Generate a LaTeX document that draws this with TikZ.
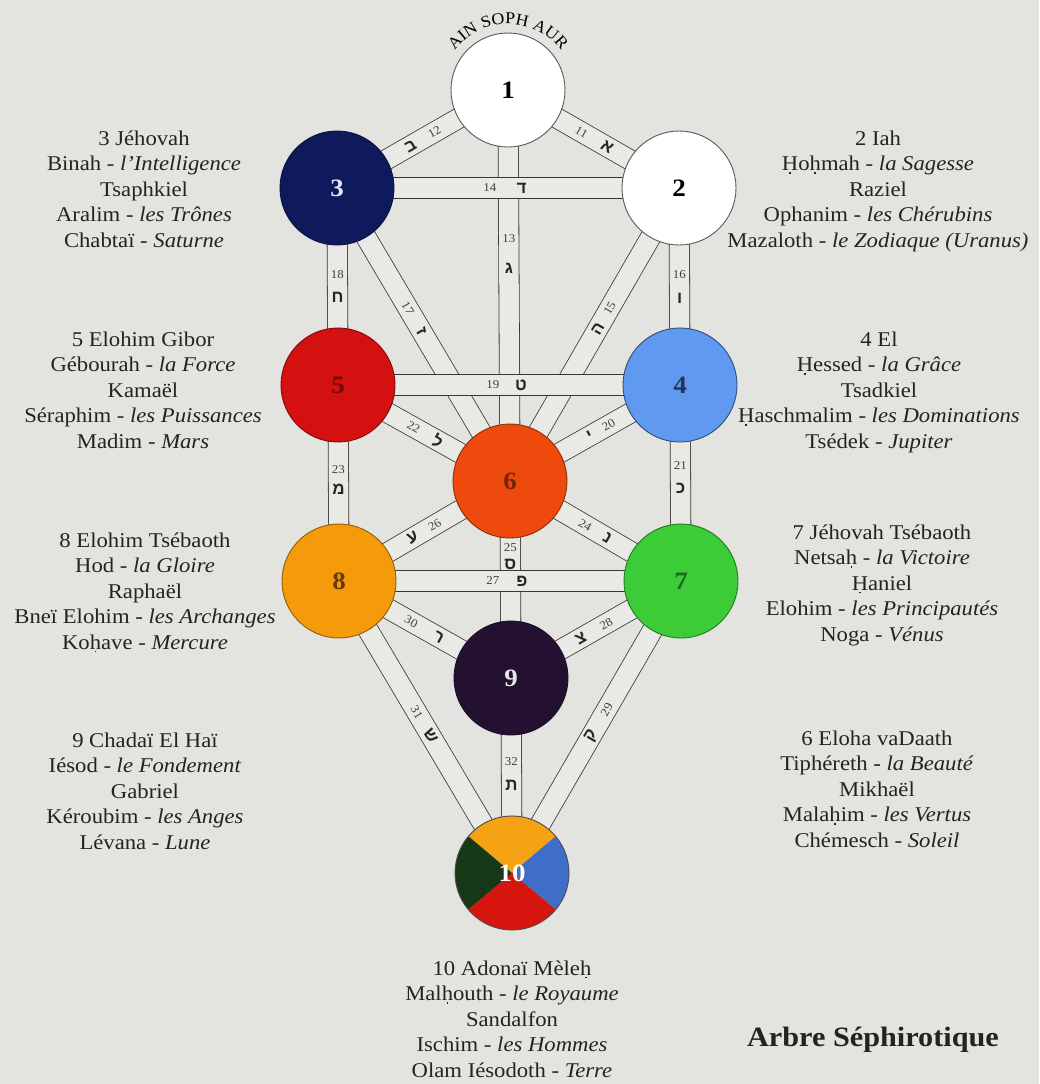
\documentclass[tikz,border=0pt]{standalone}
\usepackage{fontspec}
\setmainfont[FakeStretch=1.08]{Liberation Serif}
\newfontfamily\hebfont[Script=Hebrew]{Liberation Sans}
\usetikzlibrary{decorations.text}
\pgfdeclarelayer{back}
\pgfdeclarelayer{chan}
\pgfsetlayers{back,chan,main}
\definecolor{bg}{RGB}{227,227,223}
\definecolor{chanfill}{RGB}{233,233,229}
\definecolor{linec}{RGB}{55,55,55}
\definecolor{cthree}{RGB}{14,26,92}
\definecolor{cfive}{RGB}{212,16,16}
\definecolor{cfour}{RGB}{95,154,240}
\definecolor{csix}{RGB}{238,74,14}
\definecolor{ceight}{RGB}{245,154,10}
\definecolor{cseven}{RGB}{60,204,56}
\definecolor{cnine}{RGB}{36,16,48}
\definecolor{qorange}{RGB}{245,162,20}
\definecolor{qblue}{RGB}{62,110,200}
\definecolor{qred}{RGB}{214,22,14}
\definecolor{qgreen}{RGB}{22,56,22}
\definecolor{txt}{RGB}{35,35,35}
\newcommand\ud[1]{\leavevmode\vtop{\offinterlineskip\halign{\hfil##\hfil\cr#1\cr\noalign{\kern1.5pt}\vrule width 1.9pt height 1.9pt depth 0pt\cr}}}
\newcommand\infoblock[8]{%
  \node[info] (#1a) at (#2,#3) {#4};
  \node[info] (#1b) at (#2,#3+25.5) {#5};
  \node[info] (#1c) at (#2,#3+51) {#6};
  \node[info] (#1d) at (#2,#3+76.5) {#7};
  \node[info] (#1e) at (#2,#3+102) {#8};}
\begin{document}
\begin{tikzpicture}[x=1pt,y=-1pt,
  sephira/.style={circle, minimum size=114pt, inner sep=0pt, line width=0.9pt,
    font=\fontsize{25}{25}\selectfont\bfseries},
  chan/.style={line width=0.8pt, draw=linec, double=chanfill, double distance=19.5pt},
  num/.style={font=\fontsize{12}{12}\selectfont, text=black!75, inner sep=0pt},
  heb/.style={font=\hebfont\fontsize{17}{17}\selectfont\bfseries, text=black!85, inner sep=0pt},
  info/.style={font=\fontsize{21}{25}\selectfont, text=txt, anchor=base, inner sep=0pt}]
\begin{pgfonlayer}{back}
  \fill[bg] (0,0) rectangle (1039,1084);
\end{pgfonlayer}
\useasboundingbox (0,0) rectangle (1039,1084);

% sephiroth
\node[sephira, fill=white, draw=black!65] (n1) at (508,90) {1};
\node[sephira, fill=white, draw=black!65] (n2) at (679,188) {2};
\node[sephira, fill=cthree, draw=cthree!70!black, text=white!90!blue] (n3) at (337,188) {3};
\node[sephira, fill=cfour, draw=cfour!50!black, text=cfour!35!black] (n4) at (680,385) {4};
\node[sephira, fill=cfive, draw=cfive!60!black, text=cfive!55!black] (n5) at (338,385) {5};
\node[sephira, fill=csix, draw=csix!60!black, text=csix!50!black] (n6) at (510,481) {6};
\node[sephira, fill=cseven, draw=cseven!60!black, text=cseven!50!black] (n7) at (681,581) {7};
\node[sephira, fill=ceight, draw=ceight!60!black, text=ceight!40!black] (n8) at (339,581) {8};
\node[sephira, fill=cnine, draw=cnine!80!black, text=white!80!gray] (n9) at (511,678) {9};
\node[sephira, draw=black!70, text=white] (n10) at (512,873) {10};

\begin{pgfonlayer}{chan}
  % vertical paths
  \draw[chan] (n1.center) -- (n6.center);
  \draw[chan] (n2.center) -- (n4.center);
  \draw[chan] (n3.center) -- (n5.center);
  \draw[chan] (n4.center) -- (n7.center);
  \draw[chan] (n5.center) -- (n8.center);
  \draw[chan] (n6.center) -- (n9.center);
  \draw[chan] (n9.center) -- (n10.center);
  % diagonal paths
  \draw[chan] (n1.center) -- (n2.center);
  \draw[chan] (n1.center) -- (n3.center);
  \draw[chan] (n2.center) -- (n6.center);
  \draw[chan] (n3.center) -- (n6.center);
  \draw[chan] (n4.center) -- (n6.center);
  \draw[chan] (n5.center) -- (n6.center);
  \draw[chan] (n6.center) -- (n7.center);
  \draw[chan] (n6.center) -- (n8.center);
  \draw[chan] (n7.center) -- (n9.center);
  \draw[chan] (n8.center) -- (n9.center);
  \draw[chan] (n7.center) -- (n10.center);
  \draw[chan] (n8.center) -- (n10.center);
  % horizontal paths
  \draw[chan] (n3.center) -- (n2.center);
  \draw[chan] (n5.center) -- (n4.center);
  \draw[chan] (n8.center) -- (n7.center);
  % Malkuth quarters
  \begin{scope}[shift={(n10.center)}]
    \clip (0,0) circle[radius=57];
    \fill[qorange] (0,0) -- (-95,-80) -- (95,-80) -- cycle;
    \fill[qblue] (0,0) -- (95,-80) -- (90,75) -- cycle;
    \fill[qred] (0,0) -- (90,75) -- (-90,75) -- cycle;
    \fill[qgreen] (0,0) -- (-90,75) -- (-95,-80) -- cycle;
  \end{scope}
\end{pgfonlayer}

% curved title over Kether
\path[decorate, decoration={text along path, text align=center,
  text={|\fontsize{16.5}{16.5}\selectfont|AIN SOPH AUR}}]
  ([shift={(n1.center)}]195:66) arc[start angle=195, end angle=345, radius=66];

% path labels
\path (n1.center) -- node[num, sloped, pos=0.43] (l11n) {11} node[heb, sloped, pos=0.58] (l11h) {א} (n2.center);
\path (n1.center) -- node[num, sloped, pos=0.43] (l12n) {12} node[heb, sloped, pos=0.57] (l12h) {ב} (n3.center);
\path (n1.center) -- node[num, pos=0.38] (l13n) {13} node[heb, pos=0.455] (l13h) {ג} (n6.center);
\path (n3.center) -- node[num, pos=0.447] (l14n) {14} node[heb, pos=0.54] (l14h) {ד} (n2.center);
\path (n2.center) -- node[num, sloped, pos=0.41] (l15n) {15} node[heb, sloped, pos=0.48] (l15h) {ה} (n6.center);
\path (n2.center) -- node[num, pos=0.437] (l16n) {16} node[heb, pos=0.558] (l16h) {ו} (n4.center);
\path (n3.center) -- node[num, sloped, pos=0.41] (l17n) {17} node[heb, sloped, pos=0.49] (l17h) {ז} (n6.center);
\path (n3.center) -- node[num, pos=0.44] (l18n) {18} node[heb, pos=0.553] (l18h) {ח} (n5.center);
\path (n5.center) -- node[num, pos=0.453] (l19n) {19} node[heb, pos=0.535] (l19h) {ט} (n4.center);
\path (n4.center) -- node[num, sloped, pos=0.42] (l20n) {20} node[heb, sloped, pos=0.53] (l20h) {י} (n6.center);
\path (n4.center) -- node[num, pos=0.41] (l21n) {21} node[heb, pos=0.525] (l21h) {כ} (n7.center);
\path (n5.center) -- node[num, sloped, pos=0.44] (l22n) {22} node[heb, sloped, pos=0.58] (l22h) {ל} (n6.center);
\path (n5.center) -- node[num, pos=0.43] (l23n) {23} node[heb, pos=0.533] (l23h) {מ} (n8.center);
\path (n6.center) -- node[num, sloped, pos=0.44] (l24n) {24} node[heb, sloped, pos=0.57] (l24h) {נ} (n7.center);
\path (n6.center) -- node[num, pos=0.34] (l25n) {25} node[heb, pos=0.425] (l25h) {ס} (n9.center);
\path (n6.center) -- node[num, sloped, pos=0.44] (l26n) {26} node[heb, sloped, pos=0.57] (l26h) {ע} (n8.center);
\path (n8.center) -- node[num, pos=0.45] (l27n) {27} node[heb, pos=0.535] (l27h) {פ} (n7.center);
\path (n7.center) -- node[num, sloped, pos=0.44] (l28n) {28} node[heb, sloped, pos=0.59] (l28h) {צ} (n9.center);
\path (n7.center) -- node[num, sloped, pos=0.44] (l29n) {29} node[heb, sloped, pos=0.53] (l29h) {ק} (n10.center);
\path (n8.center) -- node[num, sloped, pos=0.42] (l30n) {30} node[heb, sloped, pos=0.58] (l30h) {ר} (n9.center);
\path (n8.center) -- node[num, sloped, pos=0.45] (l31n) {31} node[heb, sloped, pos=0.53] (l31h) {ש} (n10.center);
\path (n9.center) -- node[num, pos=0.43] (l32n) {32} node[heb, pos=0.55] (l32h) {ת} (n10.center);

% descriptions
\infoblock{tb}{144}{145}{3 Jéhovah}{Binah - \textit{l'Intelligence}}{Tsaphkiel}{Aralim - \textit{les Trônes}}{Chabtaï - \textit{Saturne}}
\infoblock{hk}{878}{145}{2 Iah}{\ud{H}o\ud{h}mah - \textit{la Sagesse}}{Raziel}{Ophanim - \textit{les Chérubins}}{Mazaloth - \textit{le Zodiaque (Uranus)}}
\infoblock{gb}{143}{346}{5 Elohim Gibor}{Gébourah - \textit{la Force}}{Kamaël}{Séraphim - \textit{les Puissances}}{Madim - \textit{Mars}}
\infoblock{hs}{879}{346}{4 El}{\ud{H}essed - \textit{la Grâce}}{Tsadkiel}{\ud{H}aschmalim - \textit{les Dominations}}{Tsédek - \textit{Jupiter}}
\infoblock{hd}{145}{547}{8 Elohim Tsébaoth}{Hod - \textit{la Gloire}}{Raphaël}{Bneï Elohim - \textit{les Archanges}}{Ko\ud{h}ave - \textit{Mercure}}
\infoblock{nt}{882}{539}{7 Jéhovah Tsébaoth}{Netsa\ud{h} - \textit{la Victoire}}{\ud{H}aniel}{Elohim - \textit{les Principautés}}{Noga - \textit{Vénus}}
\infoblock{ys}{145}{747}{9 Chadaï El Haï}{Iésod - \textit{le Fondement}}{Gabriel}{Kéroubim - \textit{les Anges}}{Lévana - \textit{Lune}}
\infoblock{tf}{877}{745}{6 Eloha vaDaath}{Tiphéreth - \textit{la Beauté}}{Mikhaël}{Mala\ud{h}im - \textit{les Vertus}}{Chémesch - \textit{Soleil}}
\infoblock{mk}{512}{975}{10 Adonaï Mèle\ud{h}}{Mal\ud{h}outh - \textit{le Royaume}}{Sandalfon}{Ischim - \textit{les Hommes}}{Olam Iésodoth - \textit{Terre}}

\node[font=\fontsize{28}{28}\selectfont\bfseries, text=txt, anchor=base, inner sep=0pt] (title) at (873,1046) {Arbre Séphirotique};
\end{tikzpicture}
\end{document}
